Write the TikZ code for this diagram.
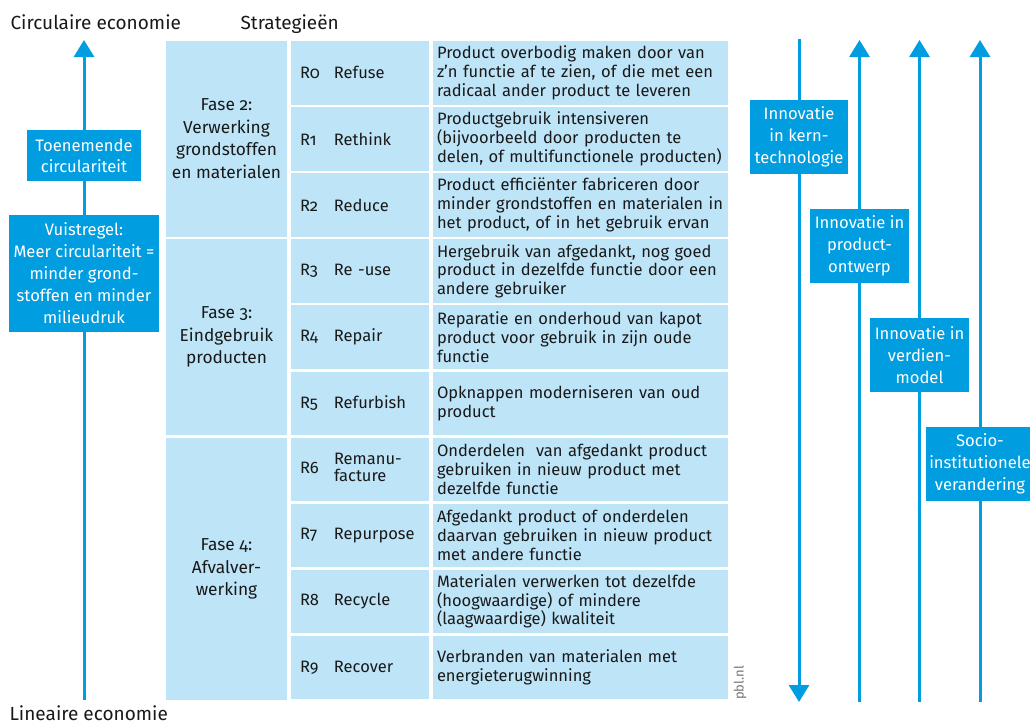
\documentclass[tikz,border=0pt]{standalone}
\usepackage{fontspec}
\setmainfont{Fira Sans}[Numbers=OldStyle]
\usepackage{tikz}
\usetikzlibrary{arrows.meta}
\definecolor{pblblue}{RGB}{0,157,224}
\definecolor{cellblue}{RGB}{190,228,248}
\definecolor{inkgrey}{RGB}{25,25,25}
\newcommand{\rlabel}[2]{\makebox[34pt][l]{#1}#2}

\begin{document}
\begin{tikzpicture}[ x=1pt, y=-1pt, faseblock/.style={fill=cellblue,
      minimum width=121pt, inner sep=0pt, align=center, text=inkgrey,
      font=\fontsize{17.3}{22.5}\selectfont}, rcell/.style={fill=cellblue,
      minimum width=138pt, minimum height=63.5pt, text width=120pt, inner
      xsep=9pt, inner ysep=0pt, align=left, text=inkgrey,
      font=\fontsize{16.5}{18.7}\selectfont}, desccell/.style={fill=cellblue,
      minimum width=295pt, minimum height=63.5pt, text width=287pt, inner
      xsep=4pt, inner ysep=0pt, align=left, text=inkgrey,
      font=\fontsize{16.5}{18.7}\selectfont}, flowline/.style={line width=3pt,
      draw=pblblue}, flowarrow/.style={flowline,
      -{Triangle[width=20pt,length=17pt]}}, bluebox/.style={fill=pblblue,
      text=white, inner sep=0pt, align=center,
      font=\fontsize{16.6}{22}\selectfont},
      axislabel/.style={anchor=base west, font=\fontsize{19}{22}\selectfont,
      text=inkgrey} ]

    \useasboundingbox (0,0) rectangle (1030,724);

    % Axis labels
    \node[axislabel] (circlabel) at (7,29) {Circulaire economie};
    \node[axislabel] (stratlabel) at (237,29) {Strategieën};
    \node[axislabel] (linlabel) at (6,720) {Lineaire economie};

    % Circularity axis
    \coordinate (circtop) at (84,40); \coordinate (circbot) at (84,700);
    \draw[flowarrow] (circbot) -- (circtop);
    \node[bluebox, minimum width=114pt, minimum height=51pt, font=\fontsize{16.6}{21}\selectfont]
    (circbox) at (84,155.5) {Toenemende\\circulariteit};
    \node[bluebox, minimum width=150pt, minimum height=117pt] (rulebox) at
    (84,273.5) {Vuistregel:\\Meer circulariteit =\\minder grond-\\stoffen en
    minder\\milieudruk};

    % Phases
    \node[faseblock, minimum height=195.7pt] (fase2) at (226.5,138.85)
    {Fase 2:\\Verwerking\\grondstoffen\\en materialen};
    \node[faseblock, minimum height=195.7pt] (fase3) at (226.5,337.15)
    {Fase 3:\\Eindgebruik\\producten};
    \node[faseblock, minimum height=261.3pt] (fase4) at (226.5,569)
    {Fase 4:\\Afvalver-\\werking};

    % R strategies
    \node[rcell] (r0) at (360,72.75) {\rlabel{R0}{Refuse}};
    \node[rcell] (r1) at (360,138.85) {\rlabel{R1}{Rethink}};
    \node[rcell] (r2) at (360,204.95) {\rlabel{R2}{Reduce}};
    \node[rcell] (r3) at (360,271.05) {\rlabel{R3}{Re -use}};
    \node[rcell] (r4) at (360,337.15) {\rlabel{R4}{Repair}};
    \node[rcell] (r5) at (360,403.25) {\rlabel{R5}{Refurbish}};
    \node[rcell] (r6) at (360,469.35) {\rlabel{R6}{{\fontsize{16.5}{16}\selectfont
    \begin{tabular}[c]{@{}l@{}}Remanu-\\facture\end{tabular}}}};
    \node[rcell] (r7) at (360,535.45) {\rlabel{R7}{Repurpose}};
    \node[rcell] (r8) at (360,601.55) {\rlabel{R8}{Recycle}};
    \node[rcell] (r9) at (360,667.65) {\rlabel{R9}{Recover}};

    % Descriptions
    \node[desccell] (d0) at (580.5,72.75) {Product overbodig maken door
    van\\z’n functie af te zien, of die met een\\radicaal ander product te
    leveren};
    \node[desccell] (d1) at (580.5,138.85) {Productgebruik
    intensiveren\\(bijvoorbeeld door producten te\\delen, of multifunctionele
    producten)};
    \node[desccell] (d2) at (580.5,204.95) {Product efficiënter fabriceren
    door\\minder grondstoffen en materialen in\\het product, of in het gebruik
    ervan};
    \node[desccell] (d3) at (580.5,271.05) {Hergebruik van afgedankt, nog
    goed\\product in dezelfde functie door een\\andere gebruiker};
    \node[desccell] (d4) at (580.5,337.15) {Reparatie en onderhoud van
    kapot\\product voor gebruik in zijn oude\\functie};
    \node[desccell] (d5) at (580.5,403.25) {Opknappen moderniseren van
    oud\\product};
    \node[desccell] (d6) at (580.5,469.35) {Onderdelen\ \ van afgedankt
    product\\gebruiken in nieuw product met\\dezelfde functie};
    \node[desccell] (d7) at (580.5,535.45) {Afgedankt product of
    onderdelen\\daarvan gebruiken in nieuw product\\met andere functie};
    \node[desccell] (d8) at (580.5,601.55) {Materialen verwerken tot
    dezelfde\\(hoogwaardige) of mindere\\(laagwaardige) kwaliteit};
    \node[desccell] (d9) at (580.5,667.65) {Verbranden van materialen
    met\\energieterugwinning};

    % Source mark
    \node[rotate=90, text=black!55, font=\fontsize{13}{15}\selectfont] (pbl)
    at (740,683) {pbl.nl};

    % Innovation axes
    \coordinate (techtop) at (799,39); \coordinate (techbot) at (799,702);
    \coordinate (designtop) at (859.5,40); \coordinate (designbot) at (859.5,702);
    \coordinate (modeltop) at (919.5,40); \coordinate (modelbot) at (919.5,702);
    \coordinate (sociotop) at (980,40); \coordinate (sociobot) at (980,702);
    \draw[flowarrow] (techtop) -- (techbot);
    \draw[flowarrow] (designbot) -- (designtop);
    \draw[flowarrow] (modelbot) -- (modeltop);
    \draw[flowarrow] (sociobot) -- (sociotop);

    % Innovation labels
    \node[bluebox, minimum width=98pt, minimum height=74pt] (techbox) at
    (799,137) {Innovatie\\in kern-\\technologie};
    \node[bluebox, minimum width=99pt, minimum height=74pt] (designbox) at
    (859.5,246) {Innovatie in\\product-\\ontwerp};
    \node[bluebox, minimum width=99pt, minimum height=74pt] (modelbox) at
    (919.5,355) {Innovatie in\\verdien-\\model};
    \node[bluebox, minimum width=108pt, minimum height=74pt] (sociobox) at
    (980,464) {Socio-\\institutionele\\verandering};

\end{tikzpicture}
\end{document}
